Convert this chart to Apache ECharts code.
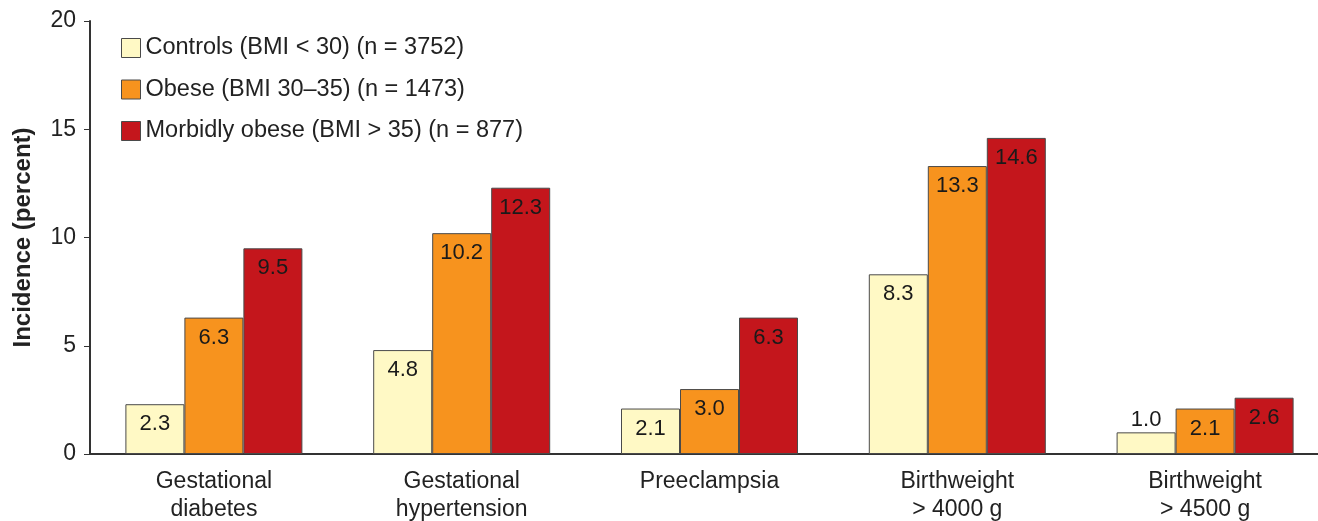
<!DOCTYPE html>
<html><head><meta charset="utf-8">
<script src="https://cdn.jsdelivr.net/npm/echarts@6/dist/echarts.min.js"></script>
<style>html,body{margin:0;padding:0;background:#fff;overflow:hidden}#w{width:1318px;height:521px;overflow:hidden;position:relative}#c{position:absolute;left:0;top:0;width:1332px;height:521px}</style>
</head><body><div id="w"><div id="c"></div></div>
<script>
const categories = ["Gestational\ndiabetes", "Gestational\nhypertension", "Preeclampsia", "Birthweight\n> 4000 g", "Birthweight\n> 4500 g"];
const seriesNames = ["Controls (BMI < 30) (n = 3752)", "Obese (BMI 30\u201335) (n = 1473)", "Morbidly obese (BMI > 35) (n = 877)"];
const controls = [2.3, 4.8, 2.1, 8.3, 1.0];
const obese = [6.3, 10.2, 3.0, 13.3, 2.1];
const morbid = [9.5, 12.3, 6.3, 14.6, 2.6];
const yTicks = [0, 5, 10, 15, 20];
const colors = ["#FFF9C5", "#F7931E", "#C4161C"];
const FONT = "Liberation Sans, Arial, Helvetica, sans-serif";

function mk(name, vals, color) {
  return {
    name: name, type: "bar", data: vals.map(v => ({
      value: v,
      label: v < 1.5 ? { position: "top", distance: 1 } : {}
    })),
    barWidth: 59, barGap: "0%",
    itemStyle: { color: color, borderColor: "#4a4a4a", borderWidth: 1 },
    label: { show: true, position: "insideTop", distance: 9, fontFamily: FONT, fontSize: 22, color: "#1a1a1a",
      formatter: p => p.value.toFixed(1) }
  };
}
const chart = echarts.init(document.getElementById("c"));
chart.setOption({
  animation: false,
  textStyle: { fontFamily: FONT },
  legend: {
    orient: "vertical", left: 116, top: 31, itemWidth: 19, itemHeight: 19, itemGap: 17.5,
    textStyle: { fontSize: 23.5, color: "#222", fontFamily: FONT }, icon: "rect",
    itemStyle: { borderColor: "#4a4a4a", borderWidth: 1 }
  },
  grid: { left: 90, top: 21, width: 1239, height: 433, containLabel: false, outerBoundsMode: "none" },
  xAxis: {
    type: "category", data: categories,
    axisLine: { lineStyle: { color: "#333", width: 2 } },
    axisTick: { show: false },
    axisLabel: { fontSize: 23, color: "#222", fontFamily: FONT, lineHeight: 28, margin: 14 }
  },
  yAxis: {
    type: "value", min: yTicks[0], max: yTicks[yTicks.length - 1], interval: 5,
    name: "Incidence (percent)", nameLocation: "middle", nameGap: 55,
    nameTextStyle: { fontSize: 24, fontWeight: "bold", color: "#222", fontFamily: FONT },
    axisLine: { show: true, lineStyle: { color: "#333", width: 2 } },
    axisTick: { show: true, length: 6, lineStyle: { color: "#333", width: 1 } },
    splitLine: { show: false },
    axisLabel: { fontSize: 23, color: "#222", fontFamily: FONT, margin: 14 }
  },
  series: [mk(seriesNames[0], controls, colors[0]), mk(seriesNames[1], obese, colors[1]), mk(seriesNames[2], morbid, colors[2])]
});
</script></body></html>
